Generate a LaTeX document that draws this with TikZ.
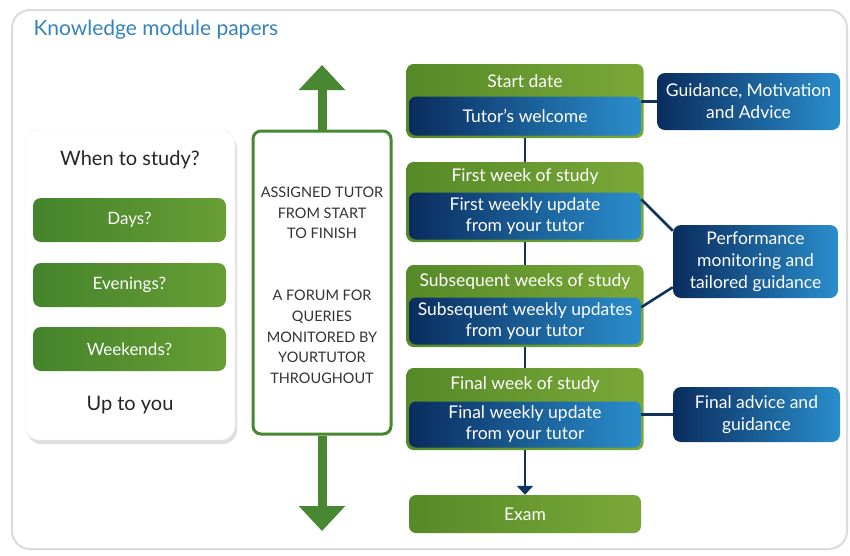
\documentclass[tikz,border=0pt]{standalone}
\usepackage{fontspec}
\setmainfont{Lato}
\usetikzlibrary{shadows, arrows.meta}

\definecolor{leafdark}{RGB}{86,138,40}
\definecolor{leaflight}{RGB}{122,168,56}
\definecolor{grassdark}{RGB}{68,132,44}
\definecolor{grasslight}{RGB}{104,158,52}
\definecolor{navy}{RGB}{10,44,94}
\definecolor{sky}{RGB}{42,142,204}
\definecolor{linkblue}{RGB}{16,50,92}
\definecolor{titleblue}{RGB}{52,132,188}
\definecolor{tutorgreen}{RGB}{72,136,50}

\tikzset{
  weekbox/.style={rounded corners=7pt, left color=leafdark, right color=leaflight,
    minimum width=237pt, inner sep=0pt},
  updatebox/.style={rounded corners=7pt, left color=navy, right color=sky,
    text=white, align=center, minimum width=232pt, inner sep=0pt,
    font=\fontsize{17.5}{21}\selectfont},
  sidebox/.style={rounded corners=8pt, left color=navy, right color=sky,
    text=white, align=center, inner sep=0pt, font=\fontsize{17.5}{22}\selectfont},
  daybox/.style={rounded corners=8pt, left color=grassdark, right color=grasslight,
    text=white, minimum width=193pt, minimum height=44pt,
    font=\fontsize{17}{18}\selectfont},
  weektitle/.style={text=white, anchor=center, font=\fontsize{17.5}{18}\selectfont},
  link/.style={draw=linkblue, line width=2.6pt},
  bigarrow/.style={draw=tutorgreen, line width=9pt, -{Triangle[width=45pt,length=25pt]}},
  capstext/.style={text=black!80, align=center, font=\fontsize{14.5}{20.7}\selectfont}
}

\begin{document}
\begin{tikzpicture}[x=1pt,y=-1pt]
  \useasboundingbox (0,0) rectangle (850,555);
  % outer frame
  \draw[black!14, line width=2pt, fill=white, rounded corners=18pt] (12,10) rectangle (847,549);
  \node[anchor=west, text=titleblue, font=\fontsize{21}{23}\selectfont] (title) at (30,30) {Knowledge module papers};

  % left card
  \node[draw=black!8, fill=white, rounded corners=14pt, minimum width=210pt, minimum height=310pt,
    drop shadow={shadow xshift=2pt, shadow yshift=-4pt, opacity=0.25}] (card) at (130,285) {};
  \node[text=black!85, font=\fontsize{20}{22}\selectfont] (when) at (130,160) {When to study?};
  \node[daybox] (days) at (129.5,220) {Days?};
  \node[daybox] (evenings) at (129.5,285) {Evenings?};
  \node[daybox] (weekends) at (129.5,349) {Weekends?};
  \node[text=black!85, font=\fontsize{20}{22}\selectfont] (upto) at (130,405) {Up to you};

  % tutor column
  \node[draw=tutorgreen, line width=3pt, fill=white, rounded corners=8pt,
    minimum width=138pt, minimum height=303pt] (tutorbox) at (322,282.5) {};
  \node[capstext] (assigned) at (322,213) {ASSIGNED TUTOR\\FROM START\\TO FINISH};
  \node[capstext] (forum) at (322,337) {A FORUM FOR\\QUERIES\\MONITORED BY\\YOURTUTOR\\THROUGHOUT};
  \coordinate (uptip) at (322,65);
  \coordinate (downtip) at (322,531);
  \draw[bigarrow] (tutorbox.north) -- (uptip);
  \draw[bigarrow] (tutorbox.south) -- (downtip);

  % week column
  \node[weekbox, minimum height=74pt] (start) at (525,101) {};
  \node[weektitle] (starttxt) at (525,81) {Start date};
  \node[updatebox, minimum height=39pt, anchor=south] (welcome) at ([yshift=2.5pt]start.south) {Tutor's welcome};

  \node[weekbox, minimum height=80pt] (first) at (525,202) {};
  \node[weektitle] (firsttxt) at (525,177) {First week of study};
  \node[updatebox, minimum height=47pt, anchor=south] (firstup) at ([yshift=2.5pt]first.south) {First weekly update\\from your tutor};

  \node[weekbox, minimum height=82pt] (later) at (525,306) {};
  \node[weektitle] (latertxt) at (525,282) {Subsequent weeks of study};
  \node[updatebox, minimum height=47pt, anchor=south] (laterup) at ([yshift=2.5pt]later.south) {Subsequent weekly updates\\from your tutor};

  \node[weekbox, minimum height=82pt] (final) at (525,409) {};
  \node[weektitle] (finaltxt) at (525,385) {Final week of study};
  \node[updatebox, minimum height=46pt, anchor=south] (finalup) at ([yshift=2.5pt]final.south) {Final weekly update\\from your tutor};

  \node[weekbox, minimum width=232pt, minimum height=38pt, text=white,
    font=\fontsize{17.5}{18}\selectfont] (exam) at (525,514) {Exam};

  % side boxes
  \node[sidebox, minimum width=183pt, minimum height=57pt] (guidance) at (748.5,101.5) {Guidance, Motivation\\and Advice};
  \node[sidebox, minimum width=165pt, minimum height=73pt] (perf) at (755.5,261.5) {Performance\\monitoring and\\tailored guidance};
  \node[sidebox, minimum width=167pt, minimum height=55pt] (advice) at (756.5,414.5) {Final advice and\\guidance};

  % links
  \draw[link] (start.south) -- (first.north);
  \draw[link] (first.south) -- (later.north);
  \draw[link] (later.south) -- (final.north);
  \draw[link, -{Triangle[width=16pt,length=9pt]}] (final.south) -- (exam.north);
  \draw[link] (guidance.west -| welcome.east) -- (guidance.west);
  \draw[link] ([yshift=-7pt]firstup.north east) -- ([yshift=-6pt]perf.north west);
  \draw[link] ([yshift=-10pt]laterup.north east) -- ([yshift=11pt]perf.south west);
  \draw[link] (advice.west -| finalup.east) -- (advice.west);
\end{tikzpicture}
\end{document}
